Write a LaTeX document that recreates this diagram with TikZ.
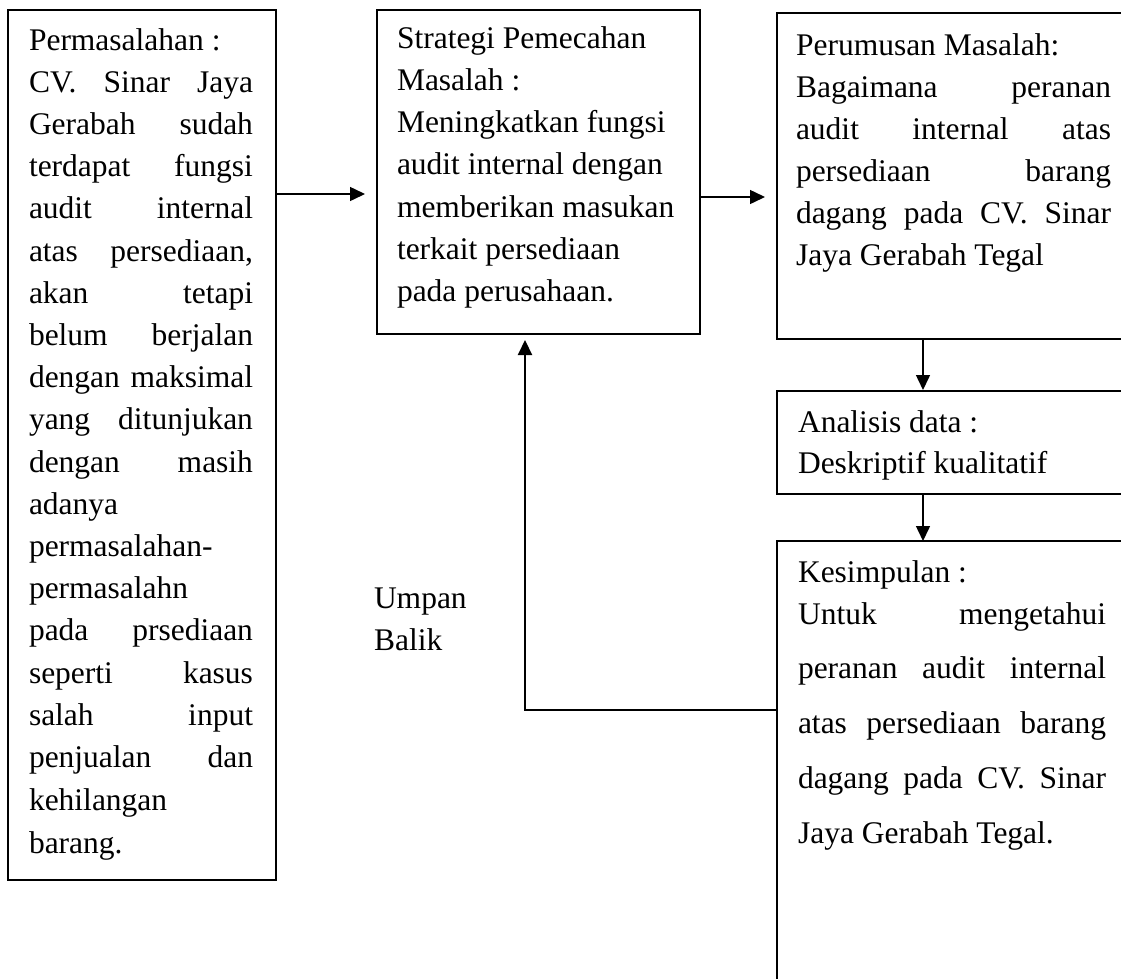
\documentclass[tikz,border=0pt]{standalone}
\usepackage{fontspec}
\setmainfont{Liberation Serif}
\usetikzlibrary{arrows.meta,calc}
\newcommand{\J}[2]{\makebox[#1pt][s]{#2}}
\tikzset{
  boxnode/.style={draw=black, line width=1.5pt, inner sep=0pt, outer sep=0pt, anchor=north west, fill=none},
  ln/.style={anchor=base west, inner sep=0pt, outer sep=0pt, font=\fontsize{31.5}{42}\selectfont},
  arr/.style={line width=1.5pt, -{Triangle[length=15pt,width=14pt]}},
  fb/.style={line width=2.2pt, -{Triangle[length=15pt,width=14pt]}}
}
\begin{document}
\begin{tikzpicture}[x=1pt,y=-1pt]
\useasboundingbox (0,0) rectangle (1121,978);
\clip (0,0) rectangle (1121,978);
% boxes
\node[boxnode, minimum width=268pt, minimum height=870pt] (p) at (8,10) {};
\node[boxnode, minimum width=323pt, minimum height=324pt] (s) at (377,10) {};
\node[boxnode, minimum width=370pt, minimum height=326pt] (r) at (777,13) {};
\node[boxnode, minimum width=370pt, minimum height=103pt] (a) at (777,391) {};
\node[boxnode, minimum width=370pt, minimum height=470pt] (k) at (777,541) {};
% box 1 text
\node[ln] (p0) at (29,50) {Permasalahan :};
\node[ln] (p1) at (29,92.2) {\J{224}{CV. Sinar Jaya}};
\node[ln] (p2) at (29,134.4) {\J{224}{Gerabah sudah}};
\node[ln] (p3) at (29,176.6) {\J{224}{terdapat fungsi}};
\node[ln] (p4) at (29,218.8) {\J{224}{audit internal}};
\node[ln] (p5) at (29,261) {\J{224}{atas persediaan,}};
\node[ln] (p6) at (29,303.2) {\J{224}{akan tetapi}};
\node[ln] (p7) at (29,345.4) {\J{224}{belum berjalan}};
\node[ln] (p8) at (29,387.6) {\J{224}{dengan maksimal}};
\node[ln] (p9) at (29,429.8) {\J{224}{yang ditunjukan}};
\node[ln] (p10) at (29,472) {\J{224}{dengan masih}};
\node[ln] (p11) at (29,514.2) {adanya};
\node[ln] (p12) at (29,556.4) {permasalahan-};
\node[ln] (p13) at (29,598.6) {permasalahn};
\node[ln] (p14) at (29,640.8) {\J{224}{pada prsediaan}};
\node[ln] (p15) at (29,683) {\J{224}{seperti kasus}};
\node[ln] (p16) at (29,725.2) {\J{224}{salah input}};
\node[ln] (p17) at (29,767.4) {\J{224}{penjualan dan}};
\node[ln] (p18) at (29,810.6) {kehilangan};
\node[ln] (p19) at (29,853.8) {barang.};
% box 2 text
\node[ln] (s0) at (397,48) {Strategi Pemecahan};
\node[ln] (s1) at (397,90.3) {Masalah :};
\node[ln] (s2) at (397,132.6) {Meningkatkan fungsi};
\node[ln] (s3) at (397,174.9) {audit internal dengan};
\node[ln] (s4) at (397,217.2) {memberikan masukan};
\node[ln] (s5) at (397,259.5) {terkait persediaan};
\node[ln] (s6) at (397,301.8) {pada perusahaan.};
% box 3 text
\node[ln] (r0) at (796,55) {Perumusan Masalah:};
\node[ln] (r1) at (796,97) {\J{315}{Bagaimana peranan}};
\node[ln] (r2) at (796,139) {\J{315}{audit internal atas}};
\node[ln] (r3) at (796,181) {\J{315}{persediaan barang}};
\node[ln] (r4) at (796,223) {\J{315}{dagang pada CV. Sinar}};
\node[ln] (r5) at (796,265) {Jaya Gerabah Tegal};
% analisis text
\node[ln] (a0) at (798,432) {Analisis data :};
\node[ln] (a1) at (798,473) {Deskriptif kualitatif};
% kesimpulan text
\node[ln] (k0) at (798,582) {Kesimpulan :};
\node[ln] (k1) at (798,624) {\J{308}{Untuk mengetahui}};
\node[ln] (k2) at (798,678) {\J{308}{peranan audit internal}};
\node[ln] (k3) at (798,733) {\J{308}{atas persediaan barang}};
\node[ln] (k4) at (798,788) {\J{308}{dagang pada CV. Sinar}};
\node[ln] (k5) at (798,843) {Jaya Gerabah Tegal.};
% umpan balik
\node[ln] (u0) at (374,608) {Umpan};
\node[ln] (u1) at (374,650) {Balik};
% connectors
\draw[arr, shorten >=12pt] (p.east |- 0,194) -- (s.west |- 0,194);
\draw[arr, shorten >=12pt] (s.east |- 0,197) -- (r.west |- 0,197);
\draw[arr, shorten >=1pt] (r.south -| 923,0) -- (a.north -| 923,0);
\draw[arr] (a.south -| 923,0) -- (k.north -| 923,0);
\coordinate (fbc) at (525,710);
\draw[fb, shorten >=6pt] (k.west |- fbc) -- (fbc) -- (fbc |- s.south);
\end{tikzpicture}
\end{document}
